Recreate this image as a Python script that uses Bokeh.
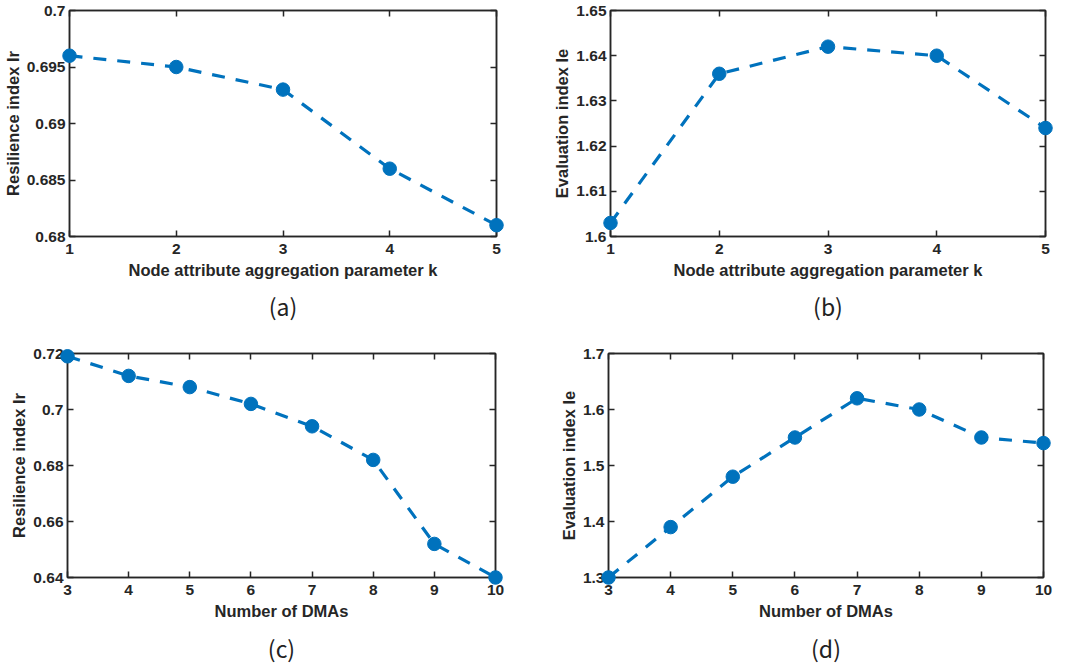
from bokeh.plotting import figure
from bokeh.models import Range1d, FixedTicker, LinearAxis, CustomJSTickFormatter, Title
from bokeh.layouts import column, row
from bokeh.embed import file_html
from bokeh.resources import INLINE

# ---- data ----
k_values = [1, 2, 3, 4, 5]
resilience_k = [0.696, 0.695, 0.693, 0.686, 0.681]
evaluation_k = [1.603, 1.636, 1.642, 1.640, 1.624]

dma_counts = [3, 4, 5, 6, 7, 8, 9, 10]
resilience_dma = [0.719, 0.712, 0.708, 0.702, 0.694, 0.682, 0.652, 0.640]
evaluation_dma = [1.30, 1.39, 1.48, 1.55, 1.62, 1.60, 1.55, 1.54]

yticks_a = [0.68, 0.685, 0.69, 0.695, 0.70]
yticks_b = [1.60, 1.61, 1.62, 1.63, 1.64, 1.65]
yticks_c = [0.64, 0.66, 0.68, 0.70, 0.72]
yticks_d = [1.3, 1.4, 1.5, 1.6, 1.7]

xlabel_k = "Node attribute aggregation parameter k"
xlabel_dma = "Number of DMAs"
ylabel_r = "Resilience index Ir"
ylabel_e = "Evaluation index Ie"

BLUE = "#0072BD"
DARK = "#262626"
FONT = "Liberation Sans"


def style_axis(ax, ticks, show_labels=True):
    ax.ticker = FixedTicker(ticks=ticks)
    ax.major_tick_in = 6
    ax.major_tick_out = 0
    ax.minor_tick_in = 0
    ax.minor_tick_out = 0
    ax.major_tick_line_color = DARK
    ax.major_tick_line_width = 1.5
    ax.axis_line_color = DARK
    ax.axis_line_width = 1.5
    ax.major_label_text_font = FONT
    ax.major_label_text_font_style = "bold"
    ax.major_label_text_color = DARK
    if show_labels:
        ax.formatter = CustomJSTickFormatter(code="return String(Math.round(tick*1000)/1000);")
        ax.major_label_text_font_size = "15.5px"
    else:
        ax.formatter = CustomJSTickFormatter(code="return '';")
        ax.major_label_text_font_size = "1px"
        ax.major_label_standoff = 0


def panel(xs, ys, xticks, yticks, xlabel, ylabel, caption, width, height,
          left, right, top, bottom, cap_standoff):
    p = figure(width=width, height=height, output_backend="svg", toolbar_location=None,
               x_range=Range1d(xticks[0], xticks[-1]), y_range=Range1d(yticks[0], yticks[-1]),
               min_border_left=left, min_border_right=right,
               min_border_top=top, min_border_bottom=bottom)
    p.grid.visible = False
    p.outline_line_color = DARK
    p.outline_line_width = 1.5
    p.background_fill_color = "white"
    p.border_fill_color = "white"

    style_axis(p.xaxis[0], xticks)
    style_axis(p.yaxis[0], yticks)
    p.xaxis.axis_label = xlabel
    p.yaxis.axis_label = ylabel
    for ax in (p.xaxis[0], p.yaxis[0]):
        ax.axis_label_text_font = FONT
        ax.axis_label_text_font_style = "bold"
        ax.axis_label_text_font_size = "16.5px"
        ax.axis_label_text_color = DARK
    p.yaxis.axis_label_standoff = 2
    p.xaxis.axis_label_standoff = 4
    p.yaxis.major_label_standoff = 4
    p.xaxis.major_label_standoff = 7

    ra = LinearAxis()
    style_axis(ra, yticks, show_labels=False)
    p.add_layout(ra, "right")
    ta = LinearAxis()
    style_axis(ta, xticks, show_labels=False)
    p.add_layout(ta, "above")

    p.line(xs, ys, line_color=BLUE, line_width=3.2, line_dash="13 11")
    p.scatter(xs, ys, size=13.5, fill_color=BLUE, line_color=BLUE, level="overlay")

    cap = Title(text=caption, align="center", text_font="Noto Sans CJK SC",
                text_font_style="normal", text_font_size="23px", text_color="#222222",
                standoff=cap_standoff)
    p.add_layout(cap, "below")
    return p


pa = panel(k_values, resilience_k, k_values, yticks_a, xlabel_k, ylabel_r, "(a)",
           535, 330, 69, 39, 10, 94, 10)
pb = panel(k_values, evaluation_k, k_values, yticks_b, xlabel_k, ylabel_e, "(b)",
           530, 330, 75, 20, 10, 94, 10)
pc = panel(dma_counts, resilience_dma, dma_counts, yticks_c, xlabel_dma, ylabel_r, "(c)",
           535, 341, 67, 40, 23, 90, 13)
pd = panel(dma_counts, evaluation_dma, dma_counts, yticks_d, xlabel_dma, ylabel_e, "(d)",
           530, 341, 73, 22, 23, 90, 13)

layout = column(row(pa, pb), row(pc, pd))
open("out.html", "w").write(file_html(layout, INLINE))
